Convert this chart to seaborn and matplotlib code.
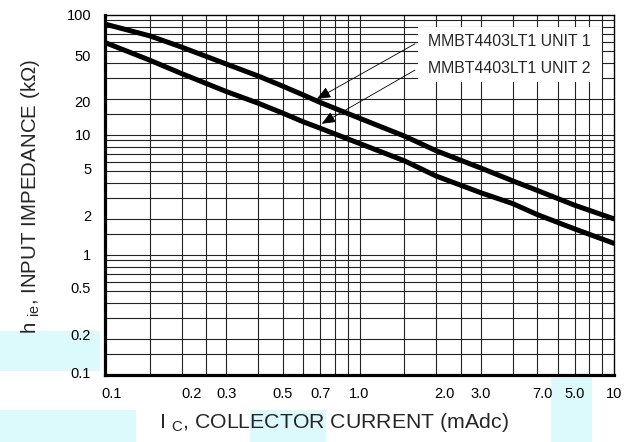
import numpy as np
import pandas as pd
import matplotlib
matplotlib.use("Agg")
import matplotlib.pyplot as plt
import matplotlib.transforms as mtransforms
import seaborn as sns
from matplotlib.patches import Rectangle

# Collector current (mA) and small-signal input impedance (kOhm) for two units
current_ma = [0.1, 0.15, 0.2, 0.3, 0.4, 0.5, 0.6, 0.7, 1.0, 1.5, 2.0, 3.0, 4.0, 5.0, 7.0, 10.0]
hie_unit1 = [84, 67, 54, 39, 31, 25.5, 21.6, 18.7, 13.8, 9.8, 7.4, 5.3, 4.15, 3.45, 2.6, 2.0]
hie_unit2 = [59, 42, 32.5, 23, 18.4, 15.2, 12.9, 11.4, 8.5, 6.1, 4.55, 3.3, 2.68, 2.17, 1.65, 1.25]
unit_names = ["MMBT4403LT1 UNIT 1", "MMBT4403LT1 UNIT 2"]

# Axis ticks and labels
x_ticks = [0.1, 0.2, 0.3, 0.5, 0.7, 1.0, 2.0, 3.0, 5.0, 7.0, 10.0]
x_tick_labels = ["0.1", "0.2", "0.3", "0.5", "0.7", "1.0", "2.0", "3.0", "7.0", "5.0", "10"]
y_ticks = [0.1, 0.2, 0.5, 1, 2, 5, 10, 20, 50, 100]
y_tick_labels = ["0.1", "0.2", "0.5", "1", "2", "5", "10", "20", "50", "100"]

# small hand-set nudges of individual tick labels (pixels; +x right, +y down)
x_label_nudge = {"0.1": 7, "0.2": 10, "2.0": 8, "7.0": 5}
y_label_nudge = {"50": 4, "20": 3, "5": -3, "2": -3, "0.5": -4, "0.2": -4, "0.1": -2}

# Log-paper grid
x_grid_steps = [1, 1.5, 2, 2.5, 3, 4, 5, 6, 7, 8, 9]
y_grid_steps = [1, 1.5, 2, 3, 4, 5, 6, 7, 8, 9]

df = pd.DataFrame({
    "ic": current_ma * 2,
    "hie": hie_unit1 + hie_unit2,
    "unit": [unit_names[0]] * len(current_ma) + [unit_names[1]] * len(current_ma),
})

sns.set_style("white")
plt.rcParams["font.family"] = ["Liberation Sans", "DejaVu Sans"]
plt.rcParams["mathtext.fontset"] = "custom"
plt.rcParams["mathtext.rm"] = "Liberation Sans"

W, H = 635, 442
fig = plt.figure(figsize=(W / 100, H / 100), dpi=100)
L, R, T, B = 105, 614, 15, 375
ax = fig.add_axes([L / W, 1 - B / H, (R - L) / W, (B - T) / H])

# light highlight patches behind some of the labels
cyan = "#dcfafc"
for (x0, y0, x1, y1) in [(0, 331, 100, 371), (0, 410, 136, 442),
                         (250, 410, 326, 442), (551, 378, 592, 442)]:
    fig.patches.append(Rectangle((x0 / W, 1 - y1 / H), (x1 - x0) / W, (y1 - y0) / H,
                                 transform=fig.transFigure, facecolor=cyan,
                                 edgecolor="none", zorder=-5))

ax.set_xscale("log")
ax.set_yscale("log")
ax.set_xlim(0.1, 10)
ax.set_ylim(0.1, 100)

for dec in [0.1, 1.0]:
    for s in x_grid_steps:
        ax.axvline(dec * s, color="#222222", lw=0.8, zorder=1)
for dec in [0.1, 1.0, 10.0]:
    for s in y_grid_steps:
        ax.axhline(dec * s, color="#222222", lw=0.8, zorder=1)

sns.lineplot(data=df, x="ic", y="hie", hue="unit", palette=["black", "black"],
             linewidth=3.6, legend=False, ax=ax, zorder=4)

# label box
ax.add_patch(Rectangle((0.615, 0.814), 0.361, 0.153, transform=ax.transAxes,
                       facecolor="white", edgecolor="none", zorder=2))
ax.text(0.6346, 0.926, unit_names[0], transform=ax.transAxes, fontsize=11.4,
        va="center", ha="left", zorder=3)
ax.text(0.6346, 0.852, unit_names[1], transform=ax.transAxes, fontsize=11.4,
        va="center", ha="left", zorder=3)
arrow = dict(arrowstyle="-|>,head_length=0.6,head_width=0.25", color="black",
             lw=0.6, mutation_scale=14, shrinkA=0, shrinkB=0)
ax.annotate("", xy=(0.68, 20.0), xycoords="data", xytext=(0.609, 0.920),
            textcoords="axes fraction", arrowprops=arrow, zorder=5)
ax.annotate("", xy=(0.71, 12.4), xycoords="data", xytext=(0.609, 0.847),
            textcoords="axes fraction", arrowprops=arrow, zorder=5)

ax.set_xticks(x_ticks)
ax.set_xticklabels(x_tick_labels)
ax.set_yticks(y_ticks)
ax.set_yticklabels(y_tick_labels)
ax.minorticks_off()
ax.tick_params(axis="both", length=0, labelsize=10.5, colors="black")
ax.tick_params(axis="x", pad=9)
ax.tick_params(axis="y", pad=10)

for lab in ax.get_xticklabels():
    dx = x_label_nudge.get(lab.get_text(), 0)
    if dx:
        lab.set_transform(lab.get_transform() +
                          mtransforms.ScaledTranslation(dx / 100, 0, fig.dpi_scale_trans))
for lab in ax.get_yticklabels():
    dy = y_label_nudge.get(lab.get_text(), 0)
    if dy:
        lab.set_transform(lab.get_transform() +
                          mtransforms.ScaledTranslation(0, -dy / 100, fig.dpi_scale_trans))

ax.set_xlabel(r"I $_{\mathregular{C}}$, COLLECTOR CURRENT (mAdc)", fontsize=15.3,
              va="center")
ax.xaxis.set_label_coords(0.45, -0.131)
ax.set_ylabel(r"h $_{\mathregular{ie}}$, INPUT IMPEDANCE (k$\mathregular{\Omega}$)",
              fontsize=14.8, va="center")
ax.yaxis.set_label_coords(-0.146, 0.495)

for side in ["left", "bottom"]:
    ax.spines[side].set_linewidth(2.3)
    ax.spines[side].set_color("black")
for side in ["top", "right"]:
    ax.spines[side].set_linewidth(1.0)
    ax.spines[side].set_color("black")
for sp in ax.spines.values():
    sp.set_zorder(6)

fig.savefig("out.png", dpi=100)
